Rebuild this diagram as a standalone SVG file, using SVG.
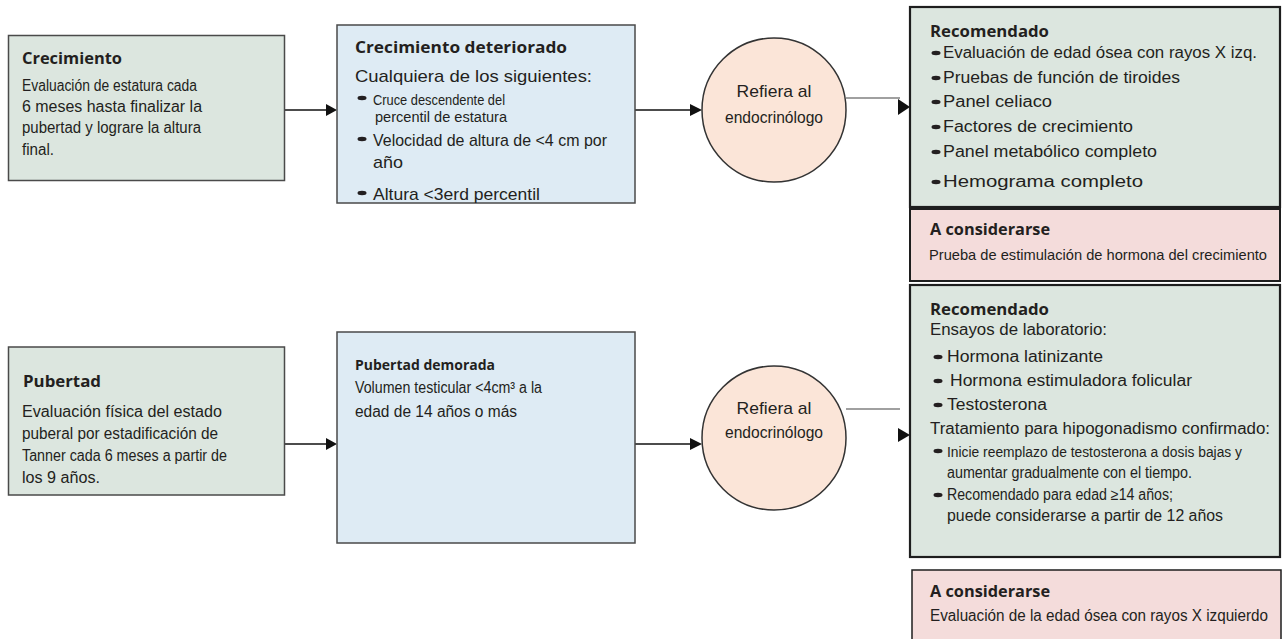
<svg xmlns="http://www.w3.org/2000/svg" width="1285" height="639" viewBox="0 0 1285 639">
<style>
.t{font-family:"Liberation Sans",Arial,sans-serif;fill:#231f20;}
.b{font-family:"Open Sans","Liberation Sans",sans-serif;font-weight:700;fill:#231f20;}
.green{fill:#dce6df;stroke:#4a4a4a;stroke-width:1.5;}
.blue{fill:#deebf4;stroke:#4a4a4a;stroke-width:1.5;}
.rgreen{fill:#dce6df;stroke:#1e1e1e;stroke-width:2.2;}
.pink{fill:#f4dcdb;stroke:#1e1e1e;stroke-width:2;}
.circ{fill:#fbe5d8;stroke:#333;stroke-width:1.5;}
.ln{stroke:#111;stroke-width:1.5;fill:none;}
.gl{stroke:#808080;stroke-width:1.5;fill:none;}
.ah{fill:#111;}
.bul{fill:#231f20;}
</style>
<rect width="1285" height="639" fill="#fff"/>

<g id="connectors">
  <line class="ln" x1="285" y1="110" x2="327" y2="110"/>
  <polygon class="ah" points="326,104 337,110 326,116"/>
  <line class="ln" x1="635" y1="110" x2="691" y2="110"/>
  <polygon class="ah" points="690,104 702,110 690,116"/>
  <line class="gl" x1="846" y1="98" x2="900" y2="98"/>
  <polygon class="ah" points="898,99 910,107 898,115"/>

  <line class="ln" x1="285" y1="444" x2="327" y2="444"/>
  <polygon class="ah" points="326,438 337,444 326,450"/>
  <line class="ln" x1="635" y1="444" x2="691" y2="444"/>
  <polygon class="ah" points="690,438 702,444 690,450"/>
  <line class="gl" x1="846" y1="409" x2="900" y2="409"/>
  <polygon class="ah" points="898,428 910,435 898,442"/>
</g>

<g id="crecimiento">
  <rect class="green" x="8.5" y="35.5" width="276" height="145"/>
  <text class="b" x="22" y="64" font-size="16" textLength="100" lengthAdjust="spacingAndGlyphs">Crecimiento</text>
  <text class="t" x="22" y="91" font-size="16" textLength="175" lengthAdjust="spacingAndGlyphs">Evaluación de estatura cada</text>
  <text class="t" x="22" y="112" font-size="16" textLength="180" lengthAdjust="spacingAndGlyphs">6 meses hasta finalizar la</text>
  <text class="t" x="22" y="133" font-size="16" textLength="179" lengthAdjust="spacingAndGlyphs">pubertad y lograre la altura</text>
  <text class="t" x="22" y="155" font-size="16" textLength="32" lengthAdjust="spacingAndGlyphs">final.</text>
</g>

<g id="crecimiento-deteriorado">
  <rect class="blue" x="337" y="25" width="298" height="178"/>
  <text class="b" x="355" y="53" font-size="16" textLength="212" lengthAdjust="spacingAndGlyphs">Crecimiento deteriorado</text>
  <text class="t" x="355" y="82" font-size="17" textLength="237" lengthAdjust="spacingAndGlyphs">Cualquiera de los siguientes:</text>
  <ellipse class="bul" cx="362" cy="98" rx="4.5" ry="2.2"/>
  <text class="t" x="373" y="105" font-size="14" textLength="132" lengthAdjust="spacingAndGlyphs">Cruce descendente del</text>
  <text class="t" x="375" y="122" font-size="14" textLength="132" lengthAdjust="spacingAndGlyphs">percentil de estatura</text>
  <ellipse class="bul" cx="362" cy="139" rx="4.5" ry="2.2"/>
  <text class="t" x="373" y="146" font-size="17" textLength="234" lengthAdjust="spacingAndGlyphs">Velocidad de altura de &lt;4 cm por</text>
  <text class="t" x="373" y="168" font-size="17" textLength="30" lengthAdjust="spacingAndGlyphs">año</text>
  <ellipse class="bul" cx="362" cy="193" rx="4.5" ry="2.2"/>
  <text class="t" x="373" y="200" font-size="17" textLength="167" lengthAdjust="spacingAndGlyphs">Altura &lt;3erd percentil</text>
</g>

<g id="refiera-1">
  <circle class="circ" cx="774" cy="110" r="72"/>
  <text class="t" x="774" y="97" font-size="17" text-anchor="middle" textLength="75" lengthAdjust="spacingAndGlyphs">Refiera al</text>
  <text class="t" x="774" y="123" font-size="17" text-anchor="middle" textLength="98" lengthAdjust="spacingAndGlyphs">endocrinólogo</text>
</g>

<g id="recomendado-1">
  <rect class="rgreen" x="910" y="7" width="370" height="200"/>
  <text class="b" x="930" y="37" font-size="16" textLength="119" lengthAdjust="spacingAndGlyphs">Recomendado</text>
  <ellipse class="bul" cx="936" cy="53" rx="4.5" ry="2.2"/>
  <text class="t" x="943" y="58" font-size="16" textLength="314" lengthAdjust="spacingAndGlyphs">Evaluación de edad ósea con rayos X izq.</text>
  <ellipse class="bul" cx="936" cy="78" rx="4.5" ry="2.2"/>
  <text class="t" x="943" y="83" font-size="16" textLength="237" lengthAdjust="spacingAndGlyphs">Pruebas de función de tiroides</text>
  <ellipse class="bul" cx="936" cy="102" rx="4.5" ry="2.2"/>
  <text class="t" x="943" y="107" font-size="16" textLength="109" lengthAdjust="spacingAndGlyphs">Panel celiaco</text>
  <ellipse class="bul" cx="936" cy="127" rx="4.5" ry="2.2"/>
  <text class="t" x="943" y="132" font-size="16" textLength="190" lengthAdjust="spacingAndGlyphs">Factores de crecimiento</text>
  <ellipse class="bul" cx="936" cy="152" rx="4.5" ry="2.2"/>
  <text class="t" x="943" y="157" font-size="16" textLength="214" lengthAdjust="spacingAndGlyphs">Panel metabólico completo</text>
  <ellipse class="bul" cx="936" cy="182" rx="4.5" ry="2.2"/>
  <text class="t" x="943" y="187" font-size="16" textLength="200" lengthAdjust="spacingAndGlyphs">Hemograma completo</text>
</g>

<g id="considerar-1">
  <rect class="pink" x="910" y="209" width="370" height="72"/>
  <text class="b" x="930" y="235" font-size="16" textLength="120" lengthAdjust="spacingAndGlyphs">A considerarse</text>
  <text class="t" x="929" y="260" font-size="15" textLength="338" lengthAdjust="spacingAndGlyphs">Prueba de estimulación de hormona del crecimiento</text>
</g>

<g id="pubertad">
  <rect class="green" x="8.5" y="347" width="276" height="148"/>
  <text class="b" x="23" y="387" font-size="16" textLength="78" lengthAdjust="spacingAndGlyphs">Pubertad</text>
  <text class="t" x="22" y="417" font-size="16" textLength="200" lengthAdjust="spacingAndGlyphs">Evaluación física del estado</text>
  <text class="t" x="22" y="439" font-size="16" textLength="196" lengthAdjust="spacingAndGlyphs">puberal por estadificación de</text>
  <text class="t" x="22" y="461" font-size="16" textLength="205" lengthAdjust="spacingAndGlyphs">Tanner cada 6 meses a partir de</text>
  <text class="t" x="22" y="483" font-size="16" textLength="78" lengthAdjust="spacingAndGlyphs">los 9 años.</text>
</g>

<g id="pubertad-demorada">
  <rect class="blue" x="337" y="332" width="298" height="211"/>
  <text class="b" x="355" y="370" font-size="14" textLength="140" lengthAdjust="spacingAndGlyphs">Pubertad demorada</text>
  <text class="t" x="355" y="393" font-size="16" textLength="187" lengthAdjust="spacingAndGlyphs">Volumen testicular &lt;4cm³ a la</text>
  <text class="t" x="355" y="417" font-size="16" textLength="162" lengthAdjust="spacingAndGlyphs">edad de 14 años o más</text>
</g>

<g id="refiera-2">
  <circle class="circ" cx="774" cy="438" r="72"/>
  <text class="t" x="774" y="414" font-size="17" text-anchor="middle" textLength="75" lengthAdjust="spacingAndGlyphs">Refiera al</text>
  <text class="t" x="774" y="438" font-size="17" text-anchor="middle" textLength="98" lengthAdjust="spacingAndGlyphs">endocrinólogo</text>
</g>

<g id="recomendado-2">
  <rect class="rgreen" x="910" y="285" width="370" height="272"/>
  <text class="b" x="930" y="315" font-size="16" textLength="119" lengthAdjust="spacingAndGlyphs">Recomendado</text>
  <text class="t" x="930" y="335" font-size="16" textLength="177" lengthAdjust="spacingAndGlyphs">Ensayos de laboratorio:</text>
  <ellipse class="bul" cx="938" cy="357" rx="4.5" ry="2.2"/>
  <text class="t" x="947" y="362" font-size="16" textLength="156" lengthAdjust="spacingAndGlyphs">Hormona latinizante</text>
  <ellipse class="bul" cx="938" cy="381" rx="4.5" ry="2.2"/>
  <text class="t" x="950" y="386" font-size="16" textLength="242" lengthAdjust="spacingAndGlyphs">Hormona estimuladora folicular</text>
  <ellipse class="bul" cx="938" cy="405" rx="4.5" ry="2.2"/>
  <text class="t" x="947" y="410" font-size="16" textLength="100" lengthAdjust="spacingAndGlyphs">Testosterona</text>
  <text class="t" x="930" y="434" font-size="16" textLength="340" lengthAdjust="spacingAndGlyphs">Tratamiento para hipogonadismo confirmado:</text>
  <ellipse class="bul" cx="938" cy="451" rx="4.5" ry="2.2"/>
  <text class="t" x="947" y="457" font-size="14" textLength="295" lengthAdjust="spacingAndGlyphs">Inicie reemplazo de testosterona a dosis bajas y</text>
  <text class="t" x="947" y="478" font-size="16" textLength="245" lengthAdjust="spacingAndGlyphs">aumentar gradualmente con el tiempo.</text>
  <ellipse class="bul" cx="938" cy="495" rx="4.5" ry="2.2"/>
  <text class="t" x="947" y="500" font-size="16" textLength="226" lengthAdjust="spacingAndGlyphs">Recomendado para edad ≥14 años;</text>
  <text class="t" x="947" y="521" font-size="16" textLength="276" lengthAdjust="spacingAndGlyphs">puede considerarse a partir de 12 años</text>
</g>

<g id="considerar-2">
  <rect class="pink" x="912" y="570" width="369" height="80" style="stroke-width:1.5"/>
  <text class="b" x="930" y="597" font-size="16" textLength="120" lengthAdjust="spacingAndGlyphs">A considerarse</text>
  <text class="t" x="930" y="621" font-size="16" textLength="338" lengthAdjust="spacingAndGlyphs">Evaluación de la edad ósea con rayos X izquierdo</text>
</g>
</svg>
